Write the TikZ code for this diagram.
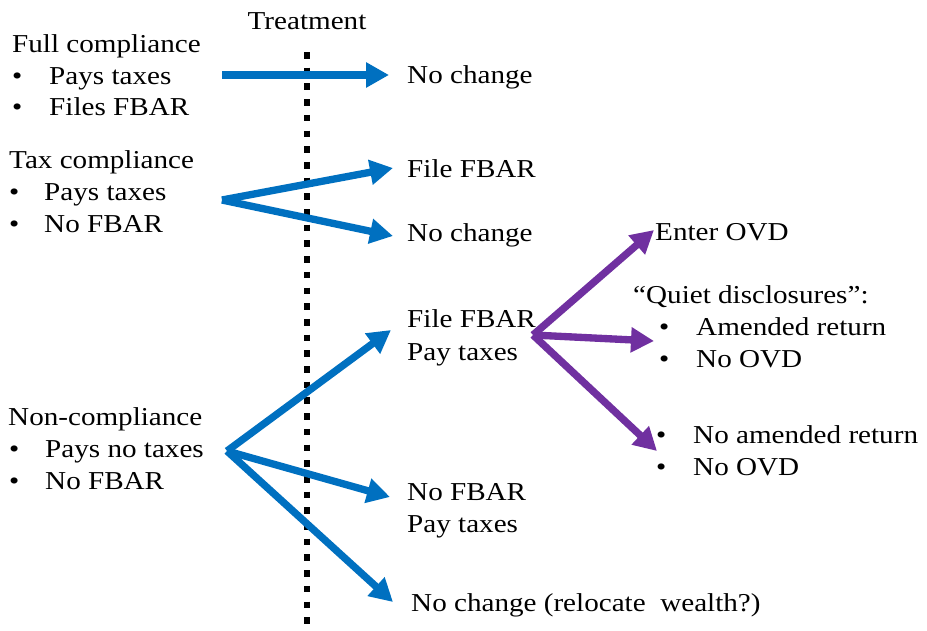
\documentclass[tikz,border=0pt]{standalone}
\usepackage{fontspec}
\setmainfont[FakeStretch=1.13]{Liberation Serif}
\usetikzlibrary{arrows.meta}

\definecolor{fbarblue}{RGB}{0,112,192}
\definecolor{ovdpurple}{RGB}{112,48,160}

\tikzset{
  txt/.style={anchor=base west,inner sep=0pt,font=\fontsize{22}{26}\selectfont},
  flow/.style={line width=0.22cm,-{Triangle[length=0.69cm,width=0.72cm]}},
}

\begin{document}
\begin{tikzpicture}[x=0.03cm,y=-0.03cm]

  \useasboundingbox (0,0) rectangle (927,630);

  % treatment line
  \node[txt,anchor=base] (treat) at (307,29) {Treatment};
  \coordinate (ttop) at (307,52);
  \coordinate (tbot) at (307,630);
  \draw[line width=0.2cm,dash pattern=on 0.2cm off 0.271cm] (ttop) -- (tbot);

  % groups on the left
  \node[txt] (full) at (12,52) {Full compliance};
  \node[txt] (fullb1) at (12,84) {•};
  \node[txt] (full1) at (49,84) {Pays taxes};
  \node[txt] (fullb2) at (12,115) {•};
  \node[txt] (full2) at (49,115) {Files FBAR};

  \node[txt] (tax) at (9,168) {Tax compliance};
  \node[txt] (taxb1) at (9,200) {•};
  \node[txt] (tax1) at (44,200) {Pays taxes};
  \node[txt] (taxb2) at (9,232) {•};
  \node[txt] (tax2) at (44,232) {No FBAR};

  \node[txt] (non) at (8,425) {Non-compliance};
  \node[txt] (nonb1) at (9,457) {•};
  \node[txt] (non1) at (45,457) {Pays no taxes};
  \node[txt] (nonb2) at (9,489) {•};
  \node[txt] (non2) at (45,489) {No FBAR};

  % outcomes
  \node[txt] (same1) at (407,83) {No change};
  \node[txt] (file1) at (407,177) {File FBAR};
  \node[txt] (same2) at (407,241) {No change};
  \node[txt] (file2) at (407,327) {File FBAR};
  \node[txt] (pay2) at (407,360) {Pay taxes};
  \node[txt] (nofbar) at (407,500) {No FBAR};
  \node[txt] (pay3) at (407,532) {Pay taxes};
  \node[txt] (same3) at (411,611) {No change (relocate\ \ wealth?)};

  \node[txt] (ovd) at (655,240) {Enter OVD};
  \node[txt] (quiet) at (633,303) {“Quiet disclosures”:};
  \node[txt] (quietb1) at (659,335) {•};
  \node[txt] (quiet1) at (696,335) {Amended return};
  \node[txt] (quietb2) at (659,367) {•};
  \node[txt] (quiet2) at (696,367) {No OVD};
  \node[txt] (noamb1) at (656,443) {•};
  \node[txt] (noam1) at (693,443) {No amended return};
  \node[txt] (noamb2) at (656,475) {•};
  \node[txt] (noam2) at (693,475) {No OVD};

  % fork points and arrow tips
  \coordinate (a) at (222,75);
  \coordinate (b) at (222,200);
  \coordinate (c) at (227,451);
  \coordinate (d) at (533,335);

  \coordinate (a1) at (389,75);
  \coordinate (b1) at (393,168);
  \coordinate (b2) at (393,236);
  \coordinate (c1) at (391,330);
  \coordinate (c2) at (390,497);
  \coordinate (c3) at (393,602);
  \coordinate (d1) at (654,230);
  \coordinate (d2) at (654,341);
  \coordinate (d3) at (657,451);

  \draw[flow,fbarblue] (a) -- (a1);
  \draw[flow,fbarblue] (b) -- (b1);
  \draw[flow,fbarblue] (b) -- (b2);
  \draw[flow,fbarblue] (c) -- (c1);
  \draw[flow,fbarblue] (c) -- (c2);
  \draw[flow,fbarblue] (c) -- (c3);

  \draw[flow,ovdpurple] (d) -- (d1);
  \draw[flow,ovdpurple] (d) -- (d2);
  \draw[flow,ovdpurple] (d) -- (d3);

\end{tikzpicture}
\end{document}
